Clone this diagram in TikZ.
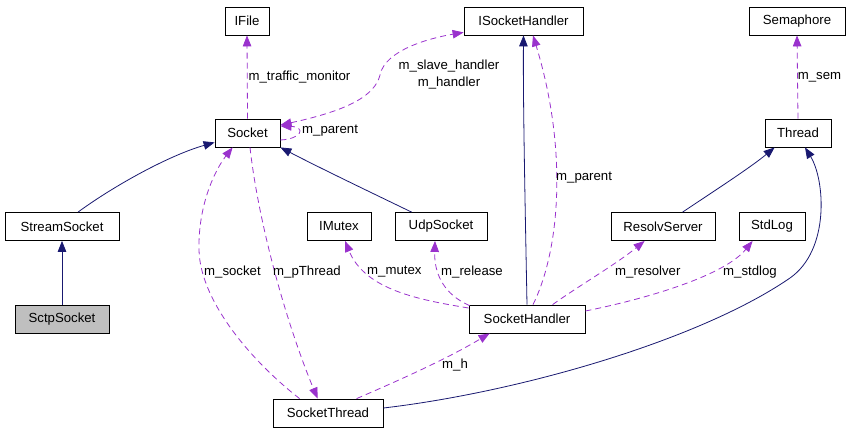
\documentclass[tikz,border=0pt]{standalone}
\usepackage{fontspec}
\setmainfont{Liberation Sans}
\usetikzlibrary{arrows.meta,calc}
\definecolor{navyc}{HTML}{191970}
\definecolor{purp}{HTML}{9A32CD}
\definecolor{grayfill}{HTML}{BFBFBF}
\begin{document}
\begin{tikzpicture}[x=1pt,y=-1pt,
  cls/.style={draw=black, line width=0.8pt, minimum height=28pt, inner sep=0pt, font=\fontsize{13.2}{15}\selectfont},
  inh/.style={navyc, line width=0.8pt, -{Triangle[length=11pt,width=8.5pt]}},
  use/.style={purp, line width=0.8pt, dash pattern=on 6pt off 4pt, -{Triangle[length=11pt,width=8.5pt]}},
  lbl/.style={anchor=west, inner sep=0pt, text=black, font=\fontsize{13.2}{17}\selectfont}]
\useasboundingbox (0,0) rectangle (851,432);
% nodes
\node[cls, minimum width=44pt] (ifile) at (247,21) {IFile};
\node[cls, minimum width=119pt] (isock) at (523.5,21) {ISocketHandler};
\node[cls, minimum width=96pt] (sem) at (797,21) {Semaphore};
\node[cls, minimum width=65pt] (socket) at (247.5,133) {Socket};
\node[cls, minimum width=66pt] (thread) at (798,133) {Thread};
\node[cls, minimum width=114pt] (stream) at (62,226.5) {StreamSocket};
\node[cls, minimum width=64pt] (imutex) at (339,226.5) {IMutex};
\node[cls, minimum width=92pt] (udp) at (441,226.5) {UdpSocket};
\node[cls, minimum width=104pt] (resolv) at (663,226.5) {ResolvServer};
\node[cls, minimum width=66pt] (stdlog) at (772,226.5) {StdLog};
\node[cls, minimum width=94pt, fill=grayfill] (sctp) at (62,319) {SctpSocket};
\node[cls, minimum width=116pt] (handler) at (527,319) {SocketHandler};
\node[cls, minimum width=110pt] (sthread) at (328,413) {SocketThread};
% inheritance
\draw[inh] (sctp.north) -- (stream.south);
\draw[inh] ($(stream.north)+(16,0)$) .. controls (115,185) and (170,155) .. ($(socket.south west)+(0,-5)$);
\draw[inh] ($(udp.north west)+(17,0)$) .. controls (370,192) and (320,168) .. (socket.south east);
\draw[inh] (handler.north) .. controls (525,200) and (523,100) .. (isock.south);
\draw[inh] ($(resolv.north west)+(72,0)$) .. controls (705,197) and (750,168) .. ($(thread.south west)+(10,0)$);
\draw[inh] ($(sthread.east)+(0,-5)$) .. controls (520,392) and (700,340) .. (790,278) .. controls (830,250) and (825,180) .. ($(thread.south)+(7,0)$);
% usage
\draw[use] (socket.north) -- (ifile.south) node[lbl, pos=0.5, xshift=1pt] {m\_traffic\_monitor};
\draw[use] (thread.north) -- (sem.south) node[lbl, pos=0.5] {m\_sem};
\draw[use, {Triangle[length=11pt,width=8.5pt]}-{Triangle[length=11pt,width=8.5pt]}] ($(socket.east)+(0,-8)$) .. controls (350,110) and (375,95) .. (380,75) .. controls (385,50) and (430,38) .. ($(isock.south west)+(0,-3)$);
\node[lbl, anchor=center, align=center] (lsh) at (449,75) {m\_slave\_handler\\m\_handler};
\draw[use] ($(socket.east)+(0,7)$) .. controls (302,139) and (306,127) .. ($(socket.east)+(0,-7)$);
\node[lbl] (lsp) at (302,131) {m\_parent};
\draw[use] ($(sthread.north west)+(27,0)$) .. controls (250,360) and (200,300) .. (199,250) .. controls (198,205) and (215,170) .. ($(socket.south west)+(18,0)$);
\node[lbl] (lsock) at (204,272) {m\_socket};
\draw[use] ($(socket.south)+(2.5,0)$) .. controls (258,220) and (285,320) .. ($(sthread.north west)+(45,0)$);
\node[lbl] (lpt) at (273,272) {m\_pThread};
\draw[use] ($(handler.west)+(0,-11)$) .. controls (420,300) and (365,290) .. ($(imutex.south)+(6,0)$);
\node[lbl] (lmut) at (367,272) {m\_mutex};
\draw[use] ($(handler.north west)+(1,1)$) .. controls (445,295) and (434,275) .. ($(udp.south)+(-6,0)$);
\node[lbl] (lrel) at (441,272) {m\_release};
\draw[use] ($(handler.north)+(6,0)$) .. controls (560,250) and (568,150) .. ($(isock.south)+(9.5,0)$);
\node[lbl] (lpar) at (556,178) {m\_parent};
\draw[use] ($(handler.north west)+(84,0)$) .. controls (580,285) and (615,265) .. ($(resolv.south west)+(34,0)$);
\node[lbl] (lres) at (615,272) {m\_resolver};
\draw[use] ($(handler.east)+(0,-8)$) .. controls (650,298) and (725,275) .. ($(stdlog.south west)+(14,0)$);
\node[lbl] (lstd) at (723,272) {m\_stdlog};
\draw[use] ($(sthread.north west)+(84,0)$) .. controls (395,382) and (445,360) .. ($(handler.south west)+(21,0)$);
\node[lbl] (lh) at (442,365) {m\_h};
\end{tikzpicture}
\end{document}
